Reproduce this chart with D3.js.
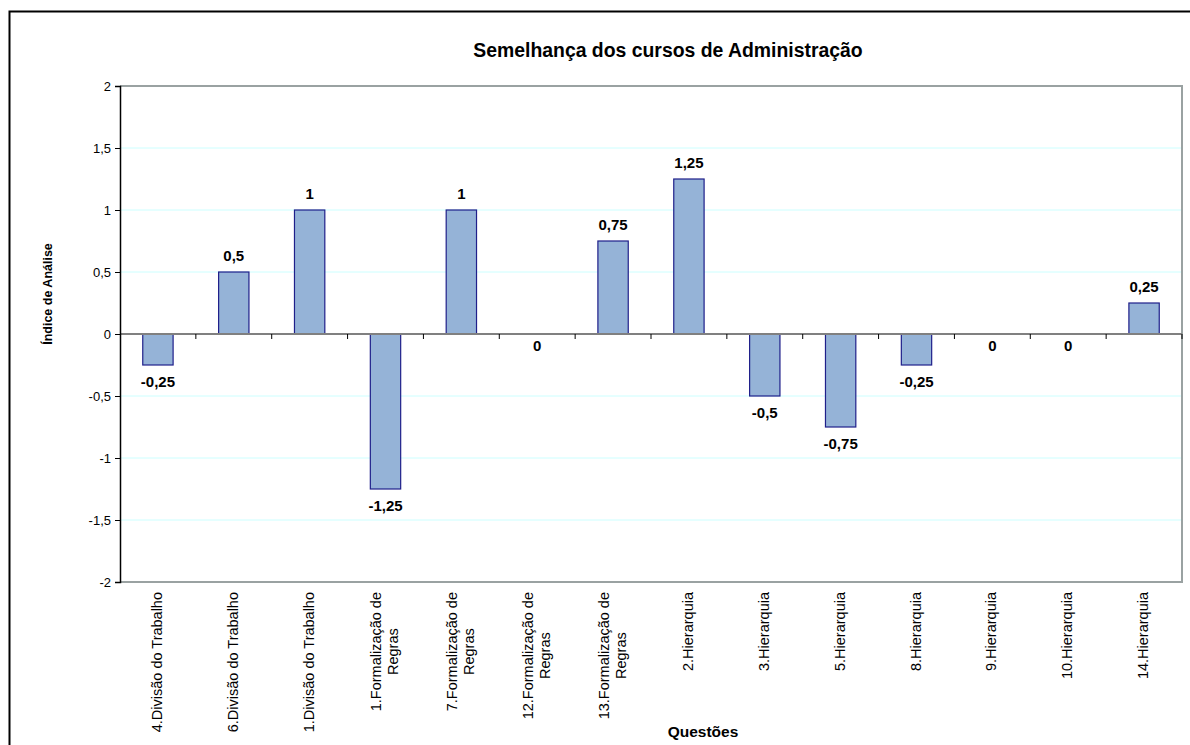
<!DOCTYPE html>
<html>
<head>
<meta charset="utf-8">
<script src="https://cdn.jsdelivr.net/npm/d3@7"></script>
<style>
  html, body { margin: 0; padding: 0; background: #fff; }
  svg { display: block; font-family: "Liberation Sans", Arial, sans-serif; }
</style>
</head>
<body>
<svg id="chart" width="1190" height="745"></svg>
<script>
// Questions (category axis); "\n" splits a label into lines
const categories = [
  "4.Divisão do Trabalho",
  "6.Divisão do Trabalho",
  "1.Divisão do Trabalho",
  "1.Formalização de\nRegras",
  "7.Formalização de\nRegras",
  "12.Formalização de\nRegras",
  "13.Formalização de\nRegras",
  "2.Hierarquia",
  "3.Hierarquia",
  "5.Hierarquia",
  "8.Hierarquia",
  "9.Hierarquia",
  "10.Hierarquia",
  "14.Hierarquia"
];
// Índice de Análise per question
const values = [-0.25, 0.5, 1, -1.25, 1, 0, 0.75, 1.25, -0.5, -0.75, -0.25, 0, 0, 0.25];
// Value-axis ticks
const yTicks = [2, 1.5, 1, 0.5, 0, -0.5, -1, -1.5, -2];
const yDomain = [-2, 2];

const chartTitle = "Semelhança dos cursos de Administração";
const yTitle = "Índice de Análise";
const xTitle = "Questões";

const svg = d3.select("#chart");
const plot = { left: 120, right: 1182, top: 86, bottom: 582 };

const ptBR = d3.formatLocale({ decimal: ",", thousands: ".", grouping: [3], currency: ["R$", ""], minus: "-" });
const fmt = ptBR.format("~g");

const y = d3.scaleLinear().domain(yDomain).range([plot.bottom, plot.top]);
const x = d3.scaleBand().domain(d3.range(categories.length))
  .range([plot.left, plot.right]).paddingInner(0.6).paddingOuter(0.3);
const step = x.step();
const boundary = i => plot.left + i * step;

// outer chart frame (continues past the right and bottom edges)
svg.append("rect")
  .attr("x", 9.5).attr("y", 11.5).attr("width", 1400).attr("height", 900)
  .attr("fill", "none").attr("stroke", "#000").attr("stroke-width", 2);

// title
svg.append("text")
  .attr("x", 668).attr("y", 57)
  .attr("text-anchor", "middle")
  .attr("font-size", 19.4).attr("font-weight", "bold")
  .text(chartTitle);

// horizontal gridlines
svg.append("g").selectAll("line")
  .data(yTicks.filter(t => t !== yDomain[0] && t !== yDomain[1] && t !== 0))
  .join("line")
  .attr("x1", plot.left).attr("x2", plot.right)
  .attr("y1", d => y(d)).attr("y2", d => y(d))
  .attr("stroke", "#ccffff").attr("stroke-width", 1);

// plot frame (top, right, bottom)
svg.append("path")
  .attr("d", `M${plot.left},${y(2)}H${plot.right}V${y(-2)}H${plot.left}`)
  .attr("fill", "none").attr("stroke", "#9aa2a2").attr("stroke-width", 2);

// bars
svg.append("g").selectAll("rect")
  .data(values)
  .join("rect")
  .attr("x", (d, i) => x(i))
  .attr("width", x.bandwidth())
  .attr("y", d => y(Math.max(0, d)))
  .attr("height", d => Math.abs(y(d) - y(0)))
  .attr("fill", "#95b3d7")
  .attr("stroke", "#1f1f8a").attr("stroke-width", 1.2);

// zero line (category axis)
svg.append("line")
  .attr("x1", plot.left).attr("x2", plot.right)
  .attr("y1", y(0)).attr("y2", y(0))
  .attr("stroke", "#808080").attr("stroke-width", 2);

// category tick marks on the zero line
svg.append("g").selectAll("line")
  .data(d3.range(1, categories.length + 1))
  .join("line")
  .attr("x1", d => boundary(d)).attr("x2", d => boundary(d))
  .attr("y1", y(0)).attr("y2", y(0) + 5)
  .attr("stroke", "#000").attr("stroke-width", 1);

// value axis
const yAxis = d3.axisLeft(y).tickValues(yTicks).tickFormat(fmt).tickSize(5).tickPadding(4);
const ya = svg.append("g").attr("transform", `translate(${plot.left},0)`).call(yAxis);
ya.select(".domain").attr("stroke", "#000").attr("stroke-width", 1.5);
ya.selectAll(".tick line").attr("stroke", "#000");
ya.selectAll(".tick text")
  .attr("font-family", "'Liberation Sans', Arial, sans-serif")
  .attr("font-size", 13).attr("fill", "#000");

// value labels
svg.append("g").selectAll("text")
  .data(values)
  .join("text")
  .attr("x", (d, i) => x(i) + x.bandwidth() / 2)
  .attr("y", d => d > 0 ? y(d) - 11.5 : d < 0 ? y(d) + 22 : y(0) + 17)
  .attr("text-anchor", "middle")
  .attr("font-size", 15).attr("font-weight", "bold")
  .text(d => fmt(d));

// category labels, rotated, top edge aligned below the plot
const labelFont = 14.5, lineH = 17, labelTop = 592;
const cat = svg.append("g").selectAll("g")
  .data(categories)
  .join("g");
cat.each(function (label, i) {
  const lines = label.split("\n");
  const g = d3.select(this);
  const cx = boundary(i) + step / 2;
  const texts = lines.map((ln, k) => g.append("text")
    .attr("font-size", labelFont)
    .attr("text-anchor", "middle")
    .text(ln));
  const maxLen = d3.max(texts, t => t.node().getComputedTextLength());
  const midY = labelTop + maxLen / 2;
  texts.forEach((t, k) => {
    const bx = cx - 1 + labelFont * 0.35 + (k - (lines.length - 1) / 2) * lineH;
    t.attr("transform", `translate(${bx},${midY}) rotate(-90)`);
  });
});

// axis titles
svg.append("text")
  .attr("transform", `translate(52,294) rotate(-90)`)
  .attr("text-anchor", "middle")
  .attr("font-size", 12.5).attr("font-weight", "bold")
  .text(yTitle);

svg.append("text")
  .attr("x", 703).attr("y", 736.5)
  .attr("text-anchor", "middle")
  .attr("font-size", 15.5).attr("font-weight", "bold")
  .text(xTitle);
</script>
</body>
</html>
